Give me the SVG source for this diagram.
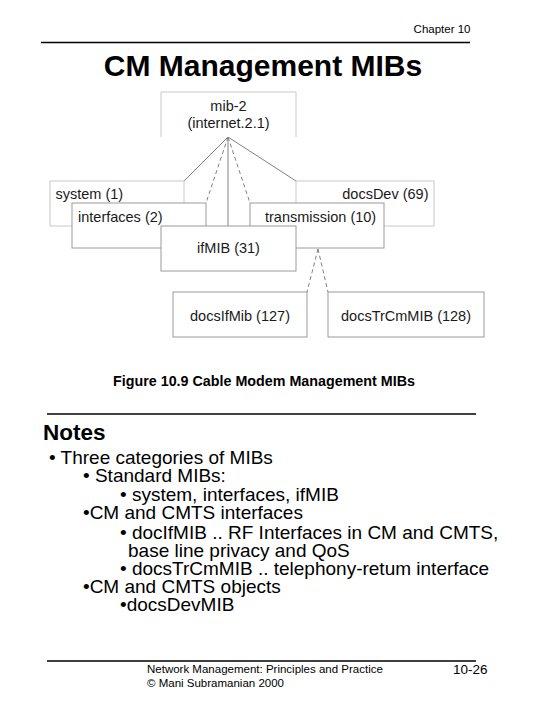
<svg xmlns="http://www.w3.org/2000/svg" width="540" height="706" viewBox="0 0 540 706">
<style>
.bg{fill:#fff}
.rule{stroke:#000;stroke-width:1.3}
.lbox{fill:#fff;stroke:#c8c8c8;stroke-width:1}
.dbox{fill:#fff;stroke:#9a9a9a;stroke-width:1}
.lbl{font-family:"Liberation Sans",Arial,sans-serif;font-size:14.5px;fill:#1a1a1a}
.sol{stroke:#808080;stroke-width:1;fill:none}
.dsh{stroke:#808080;stroke-width:1;fill:none;stroke-dasharray:4 3}
.note{font-family:"Liberation Sans",Arial,sans-serif;font-size:19px;fill:#000}
.small{font-family:"Liberation Sans",Arial,sans-serif;font-size:11.5px;fill:#000}
</style>
<rect class="bg" x="0" y="0" width="540" height="706"/>
<g id="header">
<text class="small" x="470.5" y="33" text-anchor="end">Chapter 10</text>
<line class="rule" x1="41" y1="42.5" x2="470" y2="42.5"/>
<text x="263" y="76" text-anchor="middle" font-family="'Liberation Sans',Arial,sans-serif" font-size="30" font-weight="bold">CM Management MIBs</text>
</g>
<g id="connectors">
<line class="sol" x1="228" y1="137" x2="184" y2="181"/>
<line class="dsh" x1="228" y1="137" x2="206" y2="203"/>
<line class="sol" x1="228" y1="137" x2="228" y2="226"/>
<line class="dsh" x1="228" y1="137" x2="250" y2="203"/>
<line class="sol" x1="228" y1="137" x2="296" y2="181"/>
<line class="dsh" x1="318" y1="249" x2="307" y2="292"/>
<line class="dsh" x1="318" y1="249" x2="328" y2="292"/>
</g>
<g id="mib2">
<path class="lbox" d="M161,137 V92 H296 V137"/>
<text class="lbl" x="228.5" y="110.5" text-anchor="middle">mib-2</text>
<text class="lbl" x="228.5" y="127.5" text-anchor="middle">(internet.2.1)</text>
</g>
<g id="system">
<rect class="lbox" x="50" y="181" width="134" height="45"/>
<text class="lbl" x="55.5" y="199">system (1)</text>
</g>
<g id="docsDev">
<rect class="lbox" x="296" y="181" width="138" height="45"/>
<text class="lbl" x="428.5" y="199" text-anchor="end">docsDev (69)</text>
</g>
<g id="interfaces">
<rect class="dbox" x="72" y="203" width="134" height="45"/>
<text class="lbl" x="78" y="221.5">interfaces (2)</text>
</g>
<g id="transmission">
<rect class="dbox" x="250" y="203" width="134" height="45"/>
<text class="lbl" x="265" y="221.5">transmission (10)</text>
</g>
<g id="ifMIB">
<rect class="dbox" x="161" y="226" width="135" height="45"/>
<text class="lbl" x="228.5" y="253" text-anchor="middle">ifMIB (31)</text>
</g>
<g id="docsIfMib">
<rect class="dbox" x="173" y="292" width="134" height="45"/>
<text class="lbl" x="240" y="321" text-anchor="middle">docsIfMib (127)</text>
</g>
<g id="docsTrCmMIB">
<rect class="dbox" x="328" y="292" width="156" height="45"/>
<text class="lbl" x="406" y="321" text-anchor="middle">docsTrCmMIB (128)</text>
</g>
<g id="caption">
<text x="264" y="386" text-anchor="middle" font-family="'Liberation Sans',Arial,sans-serif" font-size="14.3" font-weight="bold">Figure 10.9 Cable Modem Management MIBs</text>
<line class="rule" x1="47" y1="414" x2="476" y2="414"/>
</g>
<g id="notes">
<text x="43" y="440" font-family="'Liberation Sans',Arial,sans-serif" font-size="22.5" font-weight="bold">Notes</text>
<text class="note" x="49" y="463.5">• Three categories of MIBs</text>
<text class="note" x="83" y="482">• Standard MIBs:</text>
<text class="note" x="120" y="500.5">• system, interfaces, ifMIB</text>
<text class="note" x="83" y="519">•CM and CMTS interfaces</text>
<text class="note" x="120" y="539">• docIfMIB .. RF Interfaces in CM and CMTS,</text>
<text class="note" x="128" y="556.5">base line privacy and QoS</text>
<text class="note" x="120" y="574.5">• docsTrCmMIB .. telephony-retum interface</text>
<text class="note" x="83" y="593">•CM and CMTS objects</text>
<text class="note" x="120" y="611">•docsDevMIB</text>
</g>
<g id="footer">
<line class="rule" x1="47" y1="661" x2="476" y2="661"/>
<text class="small" x="147" y="672.5">Network Management: Principles and Practice</text>
<text class="small" x="147" y="687">©  Mani Subramanian 2000</text>
<text x="487.5" y="674" text-anchor="end" font-family="'Liberation Sans',Arial,sans-serif" font-size="13.5">10-26</text>
</g>
</svg>
